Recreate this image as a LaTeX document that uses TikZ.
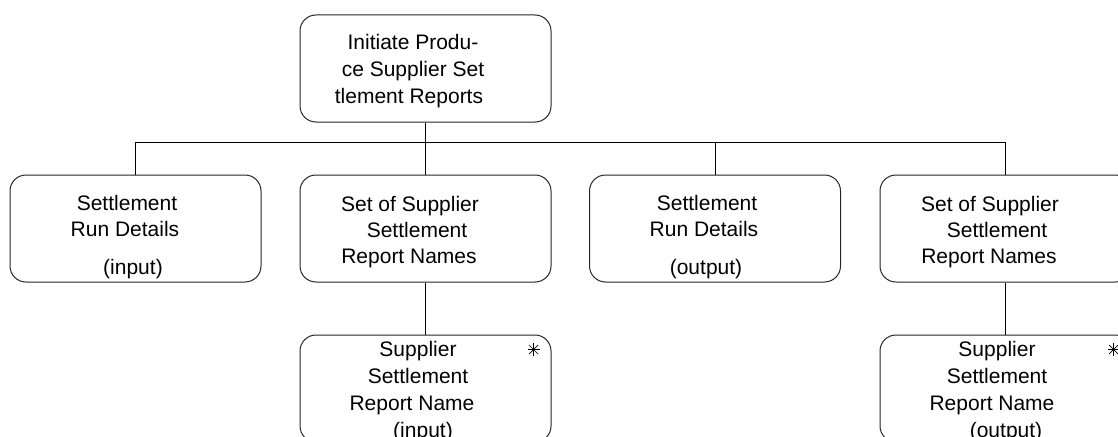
\documentclass[tikz,border=0pt]{standalone}
\usepackage{fontspec}
\setmainfont{Liberation Sans}
\begin{document}
\begin{tikzpicture}[x=1pt,y=-1pt,
  box/.style={draw=black!85, line width=1pt, rounded corners=16pt, minimum width=251pt, minimum height=107pt, inner sep=0pt},
  txt/.style={anchor=base, inner sep=0pt, font=\fontsize{21}{25}\selectfont},
  conn/.style={draw=black, line width=0.9pt},
  star/.style={draw=black, line width=0.7pt}]
\clip (0,0) rectangle (1118,436);
\fill[white] (0,0) rectangle (1118,436);
% boxes
\node[box] (top) at (425.5,68.5) {};
\node[box] (b1) at (135.5,228.5) {};
\node[box] (b2) at (425.5,228.5) {};
\node[box] (b3) at (715,228.5) {};
\node[box] (b4) at (1005.5,228.5) {};
\node[box] (b5) at (425.5,388.5) {};
\node[box] (b6) at (1005.5,388.5) {};
% connectors
\coordinate (bus) at (0,142);
\draw[conn] (top.south) -- (top.south |- bus);
\draw[conn] (b1.north) |- (bus -| b4.north) -- (b4.north);
\draw[conn] (bus -| b2.north) -- (b2.north);
\draw[conn] (bus -| b3.north) -- (b3.north);
\draw[conn] (b2.south) -- (b5.north);
\draw[conn] (b4.south) -- (b6.north);
% texts
\node[txt] (t1) at (413,50) {Initiate Produ-};
\node[txt] (t2) at (413,77) {ce Supplier Set};
\node[txt] (t3) at (409,103) {tlement Reports};
\node[txt] (a1) at (127,210) {Settlement};
\node[txt] (a2) at (125,236) {Run Details};
\node[txt] (a3) at (133,274) {(input)};
\node[txt] (c1) at (707,210) {Settlement};
\node[txt] (c2) at (704,236) {Run Details};
\node[txt] (c3) at (706,274) {(output)};
\node[txt] (s1) at (410,211) {Set of Supplier};
\node[txt] (s2) at (417,237) {Settlement};
\node[txt] (s3) at (409,263) {Report Names};
\node[txt] (d1) at (990,211) {Set of Supplier};
\node[txt] (d2) at (997,237) {Settlement};
\node[txt] (d3) at (989,263) {Report Names};
\node[txt] (e1) at (418,356) {Supplier};
\node[txt] (e2) at (418,383) {Settlement};
\node[txt] (e3) at (412,410) {Report Name};
\node[txt] (e4) at (423,437) {(input)};
\node[txt] (f1) at (997,356) {Supplier};
\node[txt] (f2) at (997,383) {Settlement};
\node[txt] (f3) at (992,410) {Report Name};
\node[txt] (f4) at (1006,437) {(output)};
% iteration stars
\foreach \b in {b5,b6}{
  \coordinate (st) at ([xshift=-18pt,yshift=-15pt]\b.north east);
  \draw[star] ([xshift=-6pt]st) -- ([xshift=6pt]st);
  \draw[star] ([yshift=-6.5pt]st) -- ([yshift=6.5pt]st);
  \draw[star] ([shift={(-4.5,-4.5)}]st) -- ([shift={(4.5,4.5)}]st);
  \draw[star] ([shift={(4.5,-4.5)}]st) -- ([shift={(-4.5,4.5)}]st);
}
\end{tikzpicture}
\end{document}
